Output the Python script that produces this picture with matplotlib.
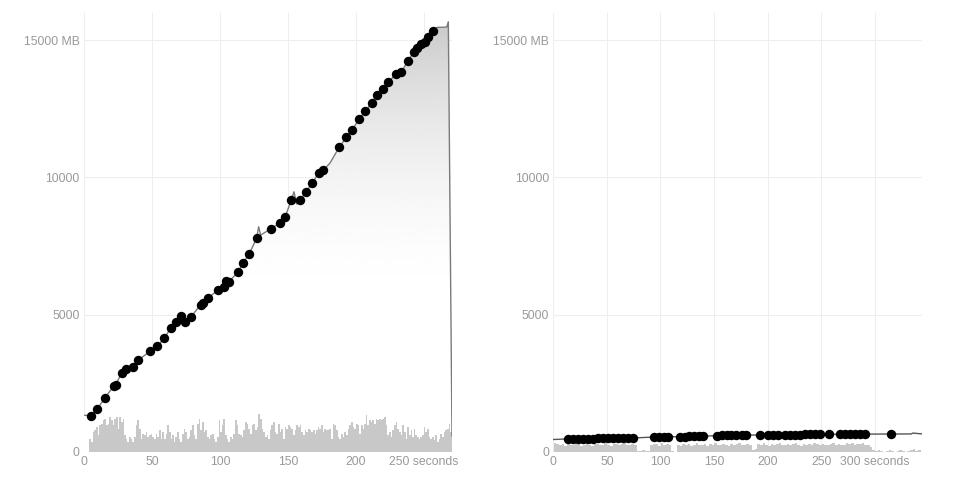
import numpy as np
import matplotlib.pyplot as plt
from matplotlib.patches import Polygon

plt.rcParams['font.family'] = ['Liberation Sans', 'DejaVu Sans']

# left run: sampled memory (seconds, MB)
left_dot_t = [5.1, 9.8, 15.4, 21.8, 23.2, 27.7, 31.1, 36.3, 39.7, 48.5,
              53.9, 59.0, 63.8, 67.4, 71.1, 74.5, 78.7, 85.8, 87.7, 91.4,
              98.3, 102.9, 104.4, 106.6, 113.2, 117.1, 121.5, 127.0, 137.3, 144.1,
              148.0, 152.4, 158.8, 163.4, 167.9, 172.6, 176.0, 187.7, 192.9, 197.1,
              202.2, 206.8, 211.5, 215.4, 219.6, 223.5, 229.2, 233.3, 238.0, 242.4,
              245.1, 247.8, 250.7, 253.2, 256.8]
left_dot_mb = [1322, 1577, 1966, 2403, 2458, 2866, 3033, 3106, 3339, 3667,
               3849, 4141, 4516, 4745, 4964, 4734, 4927, 5364, 5437, 5608,
               5899, 6020, 6227, 6202, 6555, 6894, 7221, 7793, 8132, 8339,
               8569, 9177, 9177, 9479, 9811, 10149, 10269, 11107, 11460, 11726,
               12127, 12407, 12720, 13001, 13230, 13463, 13754, 13849, 14228, 14578,
               14712, 14847, 14942, 15113, 15342]
# line samples between the dots
left_extra_t = [0, 128.4, 129.9, 154.4, 156.4, 180.9, 259.6, 266.7, 267.9, 270.6]
left_extra_mb = [1340, 8204, 7902, 9479, 9031, 10525, 15466, 15477, 15670, 583]

# cpu bars, left run
left_cpu_start = 4.6
left_cpu_step = 1.217
left_cpu = [490, 370, 730, 790, 910, 610, 970, 1030, 1150, 1220, 970, 1030, 1280, 1150, 970,
            1220, 1280, 850, 1280, 1090, 1220, 610, 490, 370, 550, 490, 370, 550, 970, 1150,
            850, 490, 670, 610, 730, 550, 610, 670, 550, 490, 670, 550, 790, 490, 730,
            490, 670, 970, 730, 490, 610, 370, 550, 730, 490, 370, 670, 850, 730, 490,
            550, 790, 970, 610, 490, 1030, 1220, 790, 1090, 730, 790,
            550, 490, 610, 670, 490, 370, 550, 1150, 730, 970, 1220, 610, 490, 370, 550,
            490, 670, 1150, 970, 670, 610, 550, 790, 1090, 1030, 850, 670, 970, 1030, 790,
            910, 1400, 1220, 850, 730, 550, 610, 490, 790, 970, 1090, 730, 670, 1030, 730,
            850, 490, 910, 850, 970, 910, 850, 610, 790, 970, 910, 970, 730, 610, 790,
            730, 850, 790, 730, 790, 670, 790, 910, 850, 970, 730, 850, 790,
            790, 850, 490, 1030, 970, 790, 550, 490, 670, 550, 730, 610, 850, 970, 1090,
            910, 850, 1030, 970, 670, 970, 850, 1030, 1340, 970, 1150, 1090, 1150, 1030, 1220,
            1150, 1220, 1150, 1220, 1280, 970, 610, 730, 550, 790, 970, 1090, 850, 730, 610,
            970, 730, 490, 910, 610, 790, 550, 850, 610, 550, 490, 550, 610, 910, 730,
            850, 550, 490, 550, 430, 610, 370, 490, 670, 550, 730, 790, 850, 1030, 730]

# right run
right_dot_t = [13.9, 18.4, 23.2, 27.8, 32.5, 37.0, 41.8, 46.3, 51.0, 55.7, 60.3, 65.0, 69.6, 74.8,
               93.8, 98.4, 102.9, 107.3,
               118.5, 122.7, 127.0, 131.3, 135.5, 139.8,
               152.3, 157.0, 161.6, 166.2, 170.9, 175.6, 180.2,
               192.6, 200.3, 205.0, 209.6,
               215.9, 220.5, 225.2, 229.8, 234.5, 239.1, 243.8, 248.4,
               256.9, 267.1, 271.8, 276.4, 281.1, 285.7, 290.4, 315.3]
right_dot_mb = [478, 481, 484, 486, 489, 491, 494, 496, 499, 501, 503, 506, 508, 511,
                545, 547, 549, 551,
                562, 564, 566, 568, 570, 572,
                600, 603, 605, 607, 609, 611, 613,
                622, 626, 628, 630,
                632, 634, 636, 637, 639, 640, 642, 643,
                645, 647, 648, 649, 650, 651, 652, 655]
right_extra_t = [0, 334.0, 335.5, 344.0]
right_extra_mb = [455, 658, 690, 658]

right_cpu_start = 1.5
right_cpu_step = 2.5
right_cpu = [340, 300, 250, 280, 220, 300, 260, 240, 290, 310, 230, 270, 300, 250, 220, 280,
             300, 260, 240, 310, 270, 230, 290, 300, 250, 280, 320, 260, 240, 290, 250,
             40, 20, 60, 30, 20,
             250, 300, 280, 230, 310, 260, 290, 240,
             40, 10,
             260, 230, 290, 250, 300, 220, 270, 310, 240, 260, 300, 230, 280, 250, 320, 270,
             240, 290, 260, 230, 300, 250, 280, 310, 240, 270, 290, 250,
             80, 120,
             280, 250, 310, 270, 230, 300, 260, 290, 320, 240, 270, 300, 250, 280, 310, 260,
             230, 290, 270, 300, 250, 320, 280, 240, 300, 270, 250, 290, 310, 260, 280, 240,
             270, 310, 290, 330, 260, 300, 280, 320, 270, 250, 200,
             60, 40, 90, 30, 0, 50, 70, 20, 0, 40, 80, 30, 0, 20, 60, 110, 40, 90]

GREY_TXT = '#999999'
YMAX = 15980


def merged_line(dot_t, dot_mb, extra_t, extra_mb):
    pts = sorted(zip(dot_t + extra_t, dot_mb + extra_mb))
    return np.array([p[0] for p in pts]), np.array([p[1] for p in pts])


def style_axes(ax, xmax, xticks, xlabels):
    ax.set_xlim(0, xmax)
    ax.set_ylim(0, YMAX)
    for s in ax.spines.values():
        s.set_visible(False)
    ax.set_xticks(xticks)
    ax.set_xticklabels(xlabels)
    ax.set_yticks([0, 5000, 10000, 15000])
    ax.set_yticklabels(['0', '5000', '10000', '15000 MB'])
    ax.tick_params(length=0, colors=GREY_TXT, labelsize=8.8, pad=3)
    ax.grid(True, color='#eeeeee', linewidth=0.8)
    ax.set_axisbelow(True)


fig = plt.figure(figsize=(9.65, 4.88), dpi=100)
ax1 = fig.add_axes([84 / 965, 36 / 488, 368 / 965, 438.7 / 488])
ax2 = fig.add_axes([553.3 / 965, 36 / 488, 368.7 / 965, 438.7 / 488])

# left
lx, ly = merged_line(left_dot_t, left_dot_mb, left_extra_t, left_extra_mb)
poly_xy = np.vstack([np.column_stack([lx, ly]), [[lx[-1], 0], [0, 0]]])
clip = Polygon(poly_xy, closed=True, facecolor='none', edgecolor='none')
ax1.add_patch(clip)
# soft vertical shade under the memory line, white below ~5000 MB
yy = np.linspace(0, YMAX, 256)
shade = 1 - 0.21 * np.clip((yy - 5000) / 10700, 0, 1) ** 2
im = ax1.imshow(np.column_stack([shade, shade]), extent=[0, lx[-1], 0, YMAX], origin='lower',
                aspect='auto', cmap='gray', vmin=0, vmax=1, zorder=1)
im.set_clip_path(clip)

bx = left_cpu_start + left_cpu_step * np.arange(len(left_cpu))
ax1.bar(bx, left_cpu, width=left_cpu_step, color='#c8c8c8', linewidth=0, zorder=2)
ax1.plot(lx, ly, color='#7a7a7a', linewidth=1.0, zorder=3)
ax1.scatter(left_dot_t, left_dot_mb, s=46, color='black', zorder=4, linewidths=0)
style_axes(ax1, 270.6, [0, 50, 100, 150, 200, 250],
           ['0', '50', '100', '150', '200', '250 seconds'])

# right
rx, ry = merged_line(right_dot_t, right_dot_mb, right_extra_t, right_extra_mb)
bx = right_cpu_start + right_cpu_step * np.arange(len(right_cpu))
ax2.bar(bx, right_cpu, width=right_cpu_step, color='#c8c8c8', linewidth=0, zorder=2)
ax2.plot(rx, ry, color='#555555', linewidth=1.0, zorder=3)
ax2.scatter(right_dot_t, right_dot_mb, s=46, color='black', zorder=4, linewidths=0)
style_axes(ax2, 344, [0, 50, 100, 150, 200, 250, 300],
           ['0', '50', '100', '150', '200', '250', '300 seconds'])

fig.savefig('out.png', dpi=100)
